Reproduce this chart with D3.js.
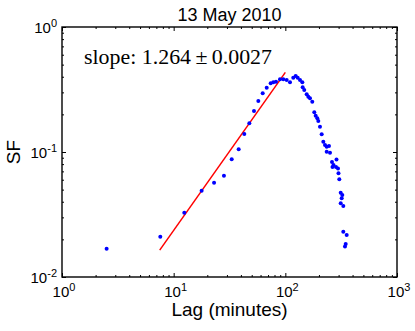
<!DOCTYPE html>
<html lang="en">
<head>
<meta charset="utf-8">
<title>13 May 2010</title>
<script src="https://d3js.org/d3.v7.min.js"></script>
<style>
  body { margin: 0; background: #fff; }
  text { font-family: "Liberation Sans", Arial, sans-serif; fill: #000; }
</style>
</head>
<body>
<div id="chart"></div>
<script>
// structure function points
const lagMinutes = [2.51, 7.59, 12.45, 17.8, 23.0, 28.2, 33.1, 38.2, 42.9, 47.6,
  52.4, 57.3, 62.7, 68.1, 73.9, 78.0, 82.5, 89.6, 95.9, 102.8,
  110.1, 117.8, 123.8, 129.0, 135.3, 141.9, 143.0, 147.8, 155.3, 160.6,
  166.3, 174.3, 181.7, 187.0, 193.3, 197.3, 204.3, 211.6, 218.8, 226.6,
  234.6, 246.0, 234.6, 251.2, 261.7, 270.0, 287.2, 264.4, 284.2, 296.2,
  299.2, 304.2, 313.2, 323.7, 319.7, 313.2, 330.4, 330.4, 354.3, 347.1, 342.1];
const sfValues = [0.0168, 0.0210, 0.0327, 0.0490, 0.0568, 0.0646, 0.0874, 0.1051, 0.1393, 0.1697,
  0.2128, 0.2559, 0.2948, 0.3268, 0.3545, 0.3611, 0.3651, 0.3816, 0.3816, 0.3767,
  0.3611, 0.3930, 0.4055, 0.3930, 0.3767, 0.3611, 0.3300, 0.3133, 0.2894, 0.2769,
  0.2689, 0.2526, 0.2078, 0.1952, 0.1861, 0.1770, 0.1594, 0.1385, 0.1209, 0.1138,
  0.1103, 0.1117, 0.1006, 0.0987, 0.0832, 0.0787, 0.0871, 0.0759, 0.0759, 0.0738,
  0.0675, 0.0605, 0.0472, 0.0453, 0.0426, 0.0389, 0.0370, 0.0230, 0.0217, 0.0184, 0.0175];

// fitted power law, end points
const fitLag = [7.5, 100];
const fitSF = [0.0164, 0.434];

const xMajor = [1, 10, 100, 1000];
const xExp = ["0", "1", "2", "3"];
const yMajor = [1, 0.1, 0.01];
const yExp = ["0", "-1", "-2"];

const titleText = "13 May 2010";
const slopeText = "slope: 1.264\u2009\u00b1\u20090.0027";

const W = 415, H = 331;
const margin = {top: 27, right: 18, bottom: 54, left: 62};

const svg = d3.select("#chart").append("svg")
  .attr("width", W).attr("height", H);

const x = d3.scaleLog().domain([1, 1000]).range([margin.left, W - margin.right]);
const y = d3.scaleLog().domain([0.01, 1]).range([H - margin.bottom, margin.top]);

// minor ticks 2..9 of each decade
const xMinor = [];
[1, 10, 100].forEach(d => { for (let k = 2; k < 10; k++) xMinor.push(d * k); });
const yMinor = [];
[0.01, 0.1].forEach(d => { for (let k = 2; k < 10; k++) yMinor.push(d * k); });

function tickAxis(axisFn, scale, vals, len, tr) {
  const g = svg.append("g").attr("transform", tr)
    .call(axisFn(scale).tickValues(vals).tickSize(-len).tickFormat(""));
  g.select(".domain").remove();
  g.selectAll(".tick line").attr("stroke", "#000").attr("stroke-width", 1);
}

const yBot = H - margin.bottom, yTop = margin.top;
const xLeft = margin.left, xRight = W - margin.right;

tickAxis(d3.axisBottom, x, xMajor, 4, `translate(0,${yBot})`);
tickAxis(d3.axisBottom, x, xMinor, 2, `translate(0,${yBot})`);
tickAxis(d3.axisTop, x, xMajor, 4, `translate(0,${yTop})`);
tickAxis(d3.axisTop, x, xMinor, 2, `translate(0,${yTop})`);
tickAxis(d3.axisLeft, y, yMajor, 4, `translate(${xLeft},0)`);
tickAxis(d3.axisLeft, y, yMinor, 2, `translate(${xLeft},0)`);
tickAxis(d3.axisRight, y, yMajor, 4, `translate(${xRight},0)`);
tickAxis(d3.axisRight, y, yMinor, 2, `translate(${xRight},0)`);

// frame
svg.append("rect")
  .attr("x", xLeft).attr("y", yTop)
  .attr("width", xRight - xLeft).attr("height", yBot - yTop)
  .attr("fill", "none").attr("stroke", "#000").attr("stroke-width", 1.4);

// tick labels 10^n
xMajor.forEach((v, i) => {
  const t = svg.append("text")
    .attr("x", x(v) + 2).attr("y", yBot + 20)
    .attr("text-anchor", "middle").style("font-size", "15px");
  t.append("tspan").text("10");
  t.append("tspan").attr("dy", -6).style("font-size", "11px").text(xExp[i]);
});
yMajor.forEach((v, i) => {
  const t = svg.append("text")
    .attr("x", xLeft - 5).attr("y", y(v) + 6)
    .attr("text-anchor", "end").style("font-size", "15px");
  t.append("tspan").text("10");
  t.append("tspan").attr("dy", -6).style("font-size", "11px").text(yExp[i]);
});

// fit line
svg.append("path")
  .datum(fitLag.map((d, i) => [d, fitSF[i]]))
  .attr("d", d3.line().x(d => x(d[0])).y(d => y(d[1])))
  .attr("stroke", "#ff0000").attr("stroke-width", 1.5).attr("fill", "none");

// points
svg.append("g").selectAll("circle")
  .data(lagMinutes.map((d, i) => [d, sfValues[i]]))
  .join("circle")
    .attr("cx", d => x(d[0]))
    .attr("cy", d => y(d[1]))
    .attr("r", 2)
    .attr("fill", "#0000ff");

// labels
svg.append("text")
  .attr("x", (xLeft + xRight) / 2).attr("y", 21)
  .attr("text-anchor", "middle").style("font-size", "18px")
  .text(titleText);

svg.append("text")
  .attr("x", (xLeft + xRight) / 2).attr("y", 316)
  .attr("text-anchor", "middle").style("font-size", "19px")
  .text("Lag (minutes)");

svg.append("text")
  .attr("transform", `translate(20,${(yTop + yBot) / 2}) rotate(-90)`)
  .attr("text-anchor", "middle").style("font-size", "19px")
  .text("SF");

svg.append("text")
  .attr("x", 84).attr("y", 64)
  .attr("textLength", 188).attr("lengthAdjust", "spacingAndGlyphs")
  .style("font-family", "'Liberation Serif', 'DejaVu Serif', serif")
  .style("font-size", "22px")
  .text(slopeText);
</script>
</body>
</html>
